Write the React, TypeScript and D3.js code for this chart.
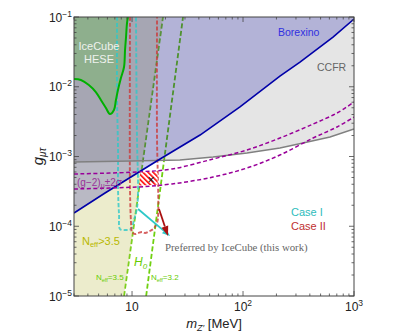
import React from 'react';
import * as d3 from 'd3';

// frame of the plot, in pixels
const W = 399;
const H = 332;
const left = 74;
const right = 354;
const top = 17;
const bottom = 296;

// axis ranges
const massRange = [3, 1000];
const couplingRange = [1e-5, 1e-1];
const xMajor = [10, 100, 1000];
const yMajor = [1e-5, 1e-4, 1e-3, 1e-2, 1e-1];

// IceCube HESE excluded region (boundary)
const iceCubeM = [3, 3.46, 4.08, 4.72, 5.24, 5.82, 6.32, 6.87, 7.16, 7.47, 7.94, 8.47, 8.65, 8.83, 9.01, 9.2];
const iceCubeG = [0.0129, 0.0125, 0.0106, 0.0084, 0.00646, 0.00496, 0.00406, 0.00464, 0.00646, 0.00897, 0.0133, 0.0192, 0.0337, 0.0516, 0.082, 0.1];

// Borexino bound
const borexinoM = [3, 5.71, 17.9, 41.0, 93.9, 215, 326, 647, 1000];
const borexinoG = [1.55e-4, 3.0e-4, 9.2e-4, 2.03e-3, 5.13e-3, 0.01425, 0.0226, 0.0516, 0.0936];

// CCFR bound
const ccfrM = [3, 10, 27, 53.7, 108.6, 215, 347, 608, 1000];
const ccfrG = [8.34e-4, 8.61e-4, 8.9e-4, 9.84e-4, 1.12e-3, 1.32e-3, 1.56e-3, 1.9e-3, 2.48e-3];

// (g-2)_mu +- 2 sigma band edges
const gm2M = [3, 11.3, 22.9, 53.7, 108.6, 215, 428, 703, 1000];
const gm2UpperG = [5.61e-4, 6.0e-4, 6.62e-4, 9.2e-4, 1.24e-3, 1.84e-3, 2.92e-3, 4.2e-3, 6.04e-3];
const gm2LowerG = [3.42e-4, 3.66e-4, 4.04e-4, 5.08e-4, 6.84e-4, 1.05e-3, 1.84e-3, 2.65e-3, 3.68e-3];

// Neff lines
const neff35M = [8.47, 19.0];
const neff32M = [13.4, 28.8];
const neffG = [1e-5, 0.1];

// IceCube preferred contours
const caseIM = [7.33, 7.33, 7.48, 7.48, 7.64, 7.8, 8.83, 9.79, 10.42, 11.09, 11.33, 11.09, 10.86];
const caseIG = [0.1, 6.46e-3, 1.24e-3, 3.31e-4, 1.45e-4, 9.12e-5, 8.83e-5, 9.12e-5, 1.23e-4, 1.83e-4, 3.31e-4, 1.72e-3, 0.1];
const caseIIM = [9.59, 9.59, 9.79, 10.0, 10.64, 11.33, 12.3, 13.1, 14.5, 15.8, 16.8, 17.2, 17.2, 16.8, 16.8];
const caseIIG = [0.1, 3.31e-4, 1.15e-4, 8.28e-5, 7.75e-5, 8.0e-5, 8.28e-5, 8.0e-5, 8.55e-5, 9.44e-5, 1.11e-4, 1.45e-4, 3.31e-4, 1.72e-3, 0.1];

// arrows (from, to)
const arrowIM = [11.33, 22.0];
const arrowIG = [1.77e-4, 7.24e-5];
const arrowIIM = [17.5, 21.1];
const arrowIIG = [1.77e-4, 7.24e-5];

// hatched best-fit box and best point
const boxM = [11.9, 17.0, 17.0, 11.6];
const boxG = [5.9e-4, 6.1e-4, 3.95e-4, 3.85e-4];
const bestM = 14.8;
const bestG = 4.6e-4;

const SANS = 'Liberation Sans, Arial, sans-serif';
const SERIF = 'Liberation Serif, Times New Roman, serif';

const zip = (ms: number[], gs: number[]) => ms.map((m, i) => [m, gs[i]] as [number, number]);

function Arrow({ x1, y1, x2, y2, color, len, wid }: any) {
  const a = Math.atan2(y2 - y1, x2 - x1);
  const bx = x2 - len * Math.cos(a);
  const by = y2 - len * Math.sin(a);
  const px = -Math.sin(a) * wid / 2;
  const py = Math.cos(a) * wid / 2;
  return (
    <g>
      <line x1={x1} y1={y1} x2={bx} y2={by} stroke={color} strokeWidth={1.8} />
      <polygon points={`${x2},${y2} ${bx + px},${by + py} ${bx - px},${by - py}`} fill={color} />
    </g>
  );
}

export default function App() {
  const x = d3.scaleLog().domain(massRange).range([left, right]);
  const y = d3.scaleLog().domain(couplingRange).range([bottom, top]);

  const line = d3.line<[number, number]>().x(d => x(d[0])).y(d => y(d[1]));
  const smooth = d3.line<[number, number]>().x(d => x(d[0])).y(d => y(d[1])).curve(d3.curveCatmullRom.alpha(0.5));

  const [xMin, xMax] = massRange;
  const [yMin, yMax] = couplingRange;

  const neffFill = line([[xMin, yMin], ...zip(neff35M, neffG), [xMin, yMax]]) + 'Z';
  const ccfrFill = line([...zip(ccfrM, ccfrG), [xMax, yMax], [xMin, yMax]]) + 'Z';
  const borexinoFill = line([...zip(borexinoM, borexinoG), [xMax, yMax], [xMin, yMax]]) + 'Z';
  const iceCubeFill = smooth(zip(iceCubeM, iceCubeG)) + `L${x(xMin)},${y(yMax)}Z`;

  const xTicks = x.ticks();
  const yTicks = y.ticks();
  const isMajor = (v: number) => Math.abs(Math.log10(v) - Math.round(Math.log10(v))) < 1e-6;

  const tickColor = '#444';

  return (
    <svg width={W} height={H} style={{ position: 'absolute', left: 0, top: 0, background: '#fff' }} fontFamily={SANS}>
      <defs>
        <clipPath id="plot">
          <rect x={left} y={top} width={right - left} height={bottom - top} />
        </clipPath>
        <pattern id="hatch" width={3.6} height={3.6} patternUnits="userSpaceOnUse" patternTransform="rotate(-45)">
          <rect width={3.6} height={3.6} fill="#fff" />
          <rect width={1.7} height={3.6} fill="#ff1a1a" />
        </pattern>
      </defs>

      <g clipPath="url(#plot)">
        {/* Neff lines sit underneath the shaded regions */}
        <path d={line(zip(neff35M, neffG)) || ''} fill="none" stroke="#70d010" strokeWidth={1.8} strokeDasharray="5,2.5" />
        <path d={line(zip(neff32M, neffG)) || ''} fill="none" stroke="#70d010" strokeWidth={1.8} strokeDasharray="5,2.5" />

        {/* shaded regions */}
        <path d={neffFill} fill="rgb(200,200,107)" fillOpacity={0.345} />
        <path d={ccfrFill} fill="#000" fillOpacity={0.1} />
        <path d={borexinoFill} fill="rgb(0,0,168)" fillOpacity={0.214} />
        <path d={iceCubeFill} fill="rgb(87,197,54)" fillOpacity={0.3} />

        {/* preferred contours, a little transparent */}
        <path d={smooth(zip(caseIM, caseIG)) || ''} fill="none" stroke="#2ec8c8" strokeOpacity={0.8} strokeWidth={1.9} strokeDasharray="4,2" />
        <path d={smooth(zip(caseIIM, caseIIG)) || ''} fill="none" stroke="#cc3a3a" strokeOpacity={0.8} strokeWidth={1.9} strokeDasharray="4,2" />

        {/* bound lines */}
        <path d={line(zip(ccfrM, ccfrG)) || ''} fill="none" stroke="#808080" strokeWidth={1.5} />
        <path d={line(zip(borexinoM, borexinoG)) || ''} fill="none" stroke="#0000a8" strokeWidth={1.6} />
        <path d={smooth(zip(iceCubeM, iceCubeG)) || ''} fill="none" stroke="#00b000" strokeWidth={2} />

        <path d={smooth(zip(gm2M, gm2UpperG)) || ''} fill="none" stroke="#990099" strokeWidth={1.5} strokeDasharray="4,2.5" />
        <path d={smooth(zip(gm2M, gm2LowerG)) || ''} fill="none" stroke="#990099" strokeWidth={1.5} strokeDasharray="4,2.5" />

        <path d={line(zip(boxM, boxG)) + 'Z'} fill="url(#hatch)" />
        <text x={x(bestM)} y={y(bestG) + 4} textAnchor="middle" fontSize={12} fill="#111">×</text>

        <Arrow x1={x(arrowIM[0])} y1={y(arrowIG[0])} x2={x(arrowIM[1])} y2={y(arrowIG[1])} color="#2ec8c8" len={8} wid={6} />
        <Arrow x1={x(arrowIIM[0])} y1={y(arrowIIG[0])} x2={x(arrowIIM[1])} y2={y(arrowIIG[1])} color="#aa1111" len={10} wid={7} />
      </g>

      {/* region labels */}
      <text x={99} y={50} textAnchor="middle" fontSize={11} fill="#eef2ee">IceCube</text>
      <text x={99} y={63} textAnchor="middle" fontSize={11} fill="#eef2ee">HESE</text>
      <text x={278} y={36} fontSize={10.5} fill="#3030e0">Borexino</text>
      <text x={317} y={71} fontSize={10.5} fill="#666">CCFR</text>
      <text x={77} y={186} fontSize={10} fill="#993399">(g−2)<tspan fontSize={7} dy={2}>μ</tspan><tspan dy={-2}>±2σ</tspan></text>
      <text x={82} y={245} fontSize={11} fill="#b8b800">N<tspan fontSize={7.5} dy={2}>eff</tspan><tspan dy={-2}>&gt;3.5</tspan></text>
      <text x={134} y={266} fontSize={12} fontStyle="italic" fill="#66cc00">H<tspan fontSize={8} dy={3}>0</tspan></text>
      <text x={96} y={280} fontSize={8} fill="#66cc00">N<tspan fontSize={5.5} dy={1.5}>eff</tspan><tspan dy={-1.5}>=3.5</tspan></text>
      <text x={151} y={280} fontSize={8} fill="#66cc00">N<tspan fontSize={5.5} dy={1.5}>eff</tspan><tspan dy={-1.5}>=3.2</tspan></text>
      <text x={291} y={216} fontSize={11} fill="#2ebcbc">Case I</text>
      <text x={291} y={230} fontSize={11} fill="#c03030">Case II</text>
      <text x={165} y={251} fontSize={10.8} fontFamily={SERIF} fill="#666">Preferred by IceCube (this work)</text>

      {/* frame and ticks */}
      <rect x={left} y={top} width={right - left} height={bottom - top} fill="none" stroke={tickColor} strokeWidth={1} />
      {xTicks.map((v, i) => {
        const len = isMajor(v) ? 5 : 2.5;
        const px = x(v);
        return (
          <g key={'x' + i} stroke={tickColor} strokeWidth={0.8}>
            <line x1={px} x2={px} y1={bottom} y2={bottom - len} />
            <line x1={px} x2={px} y1={top} y2={top + len} />
          </g>
        );
      })}
      {yTicks.map((v, i) => {
        const len = isMajor(v) ? 5 : 2.5;
        const py = y(v);
        return (
          <g key={'y' + i} stroke={tickColor} strokeWidth={0.8}>
            <line x1={left} x2={left + len} y1={py} y2={py} />
            <line x1={right} x2={right - len} y1={py} y2={py} />
          </g>
        );
      })}

      {xMajor.map(v => {
        const e = Math.round(Math.log10(v));
        return (
          <text key={'xl' + v} x={x(v)} y={311} textAnchor="middle" fontSize={12} fill="#222">
            10{e !== 1 && <tspan fontSize={8.5} dy={-5}>{e}</tspan>}
          </text>
        );
      })}
      {yMajor.map(v => {
        const e = Math.round(Math.log10(v));
        return (
          <text key={'yl' + v} x={72} y={y(v) + 4.5} textAnchor="end" fontSize={12} fill="#222">
            10<tspan fontSize={8.5} dy={-5}>{'−' + Math.abs(e)}</tspan>
          </text>
        );
      })}

      {/* axis titles */}
      <text x={214} y={328} textAnchor="middle" fontSize={13} fill="#222">
        <tspan fontStyle="italic">m</tspan><tspan fontSize={9} dy={3} fontStyle="italic">Z′</tspan><tspan dy={-3}> [MeV]</tspan>
      </text>
      <text transform={`translate(43,${(top + bottom) / 2}) rotate(-90)`} textAnchor="middle" fontSize={15} fill="#222">
        <tspan fontStyle="italic">g</tspan><tspan fontSize={10} dy={3} fontStyle="italic">μτ</tspan>
      </text>
    </svg>
  );
}
